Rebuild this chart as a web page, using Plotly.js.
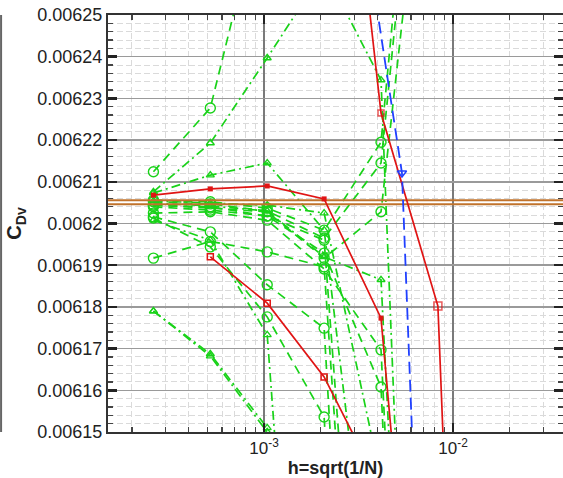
<!DOCTYPE html>
<html>
<head>
<meta charset="utf-8">
<script src="https://cdn.plot.ly/plotly-3.0.1.min.js"></script>
<style>html,body{margin:0;padding:0;background:#fff;}#chart{width:563px;height:478px;}</style>
</head>
<body>
<div id="chart"></div>
<script>
// grid spacing h = sqrt(1/N) for the six grid levels
const h = [2.6e-4, 5.2e-4, 1.04e-3, 2.08e-3, 4.16e-3, 8.32e-3];

// green families, circles (dashed)
const gc1  = [0.0062124, 0.0062277, 0.0062829];
const gc5  = [0.0062056, 0.0062052, 0.0062037, 0.0061984, 0.0062195, 0.0063639];
const gc6  = [0.0062052, 0.0062047, 0.0062030, 0.0061965, 0.0062145, 0.0063495];
const gc8  = [0.0062044, 0.0062040, 0.0062018, 0.0061929, 0.0061608, 0.0058699];
const gc9  = [0.0062025, 0.0062028, 0.0062008, 0.0061891, 0.0061697, 0.0058939];
const gc10 = [0.0061917, 0.0061957, 0.0061932, 0.0061896, 0.0059898];
const gc11 = [0.0062016, 0.0061980, 0.0061853, 0.0061749, 0.0059419];
const gc12 = [0.0062013, 0.0061944, 0.0061776, 0.0061536, 0.0059179];
const gc16 = [0.0062044, 0.0062037, 0.0062028, 0.0061917, 0.0062028, 0.0063255];
const gc17 = [0.0062040, 0.0062032, 0.0062018, 0.0061960, 0.0060138];

// green families, triangles (dash-dot)
const gt2  = [0.0062076, 0.0062193, 0.0062397, 0.0062608, 0.0062344, 0.0058939];
const gt3  = [0.0062073, 0.0062116, 0.0062145, 0.0061984, 0.0060857];
const gt4  = [0.0062054, 0.0062049, 0.0062044, 0.0062025, 0.0061385];
const gt7  = [0.0062049, 0.0062042, 0.0062030, 0.0061920, 0.0061865, 0.0059179];
const gt13 = [0.0062008, 0.0061960, 0.0061733, 0.0059898];
const gt14 = [0.0061790, 0.0061682, 0.0061500, 0.0060618];
const gt15 = [0.0061790, 0.0061687, 0.0061510, 0.0060378];

// red solid families
const redB = [0.0062068, 0.0062083, 0.0062090, 0.0062059, 0.0061773, 0.0060244];
const hRedC = [5.2e-4, 1.04e-3, 2.08e-3, 4.16e-3];
const redC = [0.0061920, 0.0061809, 0.0061632, 0.0061363];
const hRedA = [2.08e-3, 4.16e-3, 8.32e-3, 1.664e-2];
const redA = [0.0063486, 0.0062265, 0.0061802, 0.0058359];

// blue dashed family
const hBlue = [3.22e-3, 5.37e-3, 6.69e-3];
const blue  = [0.0062783, 0.0062121, 0.0061004];

// reference levels (brown)
const hRef = [1e-4, 1e-1];
const ref1 = [0.0062056, 0.0062056];
const ref2 = [0.0062046, 0.0062046];

// axis ticks
const yTicks = [0.00615, 0.00616, 0.00617, 0.00618, 0.00619, 0.0062, 0.00621, 0.00622, 0.00623, 0.00624, 0.00625];
const yLabels = ['0.00615','0.00616','0.00617','0.00618','0.00619','0.0062','0.00621','0.00622','0.00623','0.00624','0.00625'];
const xTicks = [1e-3, 1e-2];
const xLabels = ['10<sup>-3</sup>', '10<sup>-2</sup>'];
const xMinor = [2e-4,3e-4,4e-4,5e-4,6e-4,7e-4,8e-4,9e-4,2e-3,3e-3,4e-3,5e-3,6e-3,7e-3,8e-3,9e-3,2e-2,3e-2];

const GREEN = '#19d219';
const traces = [];
function green(ys, sym) {
  const circ = sym === 'c';
  traces.push({
    x: h.slice(0, ys.length), y: ys, type: 'scatter', mode: 'lines+markers',
    line: {color: GREEN, width: 1.7, dash: circ ? '9px,6px' : '9px,4px,2px,4px'},
    marker: circ ? {symbol: 'circle-open', size: 10, color: GREEN, line: {width: 1.4, color: GREEN}}
                 : {symbol: 'triangle-up-open', size: 7, color: GREEN, line: {width: 1.4, color: GREEN}},
    hoverinfo: 'skip'
  });
}
[gc1, gc5, gc6, gc8, gc9, gc10, gc11, gc12, gc16, gc17].forEach(s => green(s, 'c'));
[gt2, gt3, gt4, gt7, gt13, gt14, gt15].forEach(s => green(s, 't'));

const BROWN = '#c0732c';
traces.push({x: hRef, y: ref1, type: 'scatter', mode: 'lines', line: {color: BROWN, width: 2}});
traces.push({x: hRef, y: ref2, type: 'scatter', mode: 'lines', line: {color: BROWN, width: 2}});

const RED = '#e01414';
traces.push({x: h, y: redB, type: 'scatter', mode: 'lines+markers', line: {color: RED, width: 1.7},
  marker: {symbol: 'square', size: 5, color: RED}});
traces.push({x: hRedC, y: redC, type: 'scatter', mode: 'lines+markers', line: {color: RED, width: 1.7},
  marker: {symbol: 'square-open', size: 6, color: RED, line: {width: 1.5, color: RED}}});
traces.push({x: hRedA, y: redA, type: 'scatter', mode: 'lines+markers', line: {color: RED, width: 1.7},
  marker: {symbol: 'square-open', size: [8, 6, 8, 8], color: RED, line: {width: 1.5, color: RED}}});
traces.push({x: hBlue, y: blue, type: 'scatter', mode: 'lines+markers', line: {color: '#2040ff', width: 1.8, dash: '12px,6px'},
  marker: {symbol: 'triangle-down-open', size: 8, color: '#2040ff', line: {width: 1.5, color: '#2040ff'}}});

const layout = {
  width: 563, height: 478,
  margin: {l: 108, r: 0, t: 15, b: 46},
  paper_bgcolor: '#fff', plot_bgcolor: '#fff',
  showlegend: false,
  font: {family: 'Liberation Sans, Arial, sans-serif', color: '#222', size: 18},
  xaxis: {
    type: 'log', range: [-3.8254, -1.418],
    tickmode: 'array', tickvals: xTicks, ticktext: xLabels,
    ticks: 'inside', ticklen: 9, tickwidth: 2.5, tickcolor: '#222',
    showline: true, linecolor: '#333', linewidth: 2, mirror: 'allticks',
    showgrid: true, gridcolor: '#7a7a7a', gridwidth: 1.2,
    zeroline: false,
    tickfont: {size: 17, color: '#222'},
    minor: {tickmode: 'array', tickvals: xMinor, ticks: 'inside', ticklen: 5, tickwidth: 1.2, tickcolor: '#444',
            showgrid: true, gridcolor: '#dadada', gridwidth: 1, griddash: '6px,3px'},
    title: {text: '<b>h=sqrt(1/N)</b>', font: {size: 18, color: '#222'}, standoff: 4}
  },
  yaxis: {
    range: [0.00615, 0.00625],
    tickmode: 'array', tickvals: yTicks, ticktext: yLabels,
    ticks: 'inside', ticklen: 9, tickwidth: 2.5, tickcolor: '#222',
    showline: true, linecolor: '#333', linewidth: 2, mirror: 'allticks',
    showgrid: true, gridcolor: '#9a9a9a', gridwidth: 1.5,
    zeroline: false,
    tickfont: {size: 18, color: '#222'},
    minor: {tick0: 0.00615, dtick: 0.000002, ticks: 'inside', ticklen: 5, tickwidth: 1.2, tickcolor: '#444',
            showgrid: true, gridcolor: '#dadada', gridwidth: 1, griddash: '6px,3px'},
    title: {text: '<b>C<sub>Dv</sub></b>', font: {size: 20, color: '#222'}, standoff: 10}
  },
  shapes: [{type: 'line', xref: 'paper', yref: 'paper', x0: -0.235, x1: -0.235, y0: 0, y1: 1,
            line: {color: '#666', width: 2}}]
};

Plotly.newPlot('chart', traces, layout, {displayModeBar: false, staticPlot: true});
</script>
</body>
</html>
